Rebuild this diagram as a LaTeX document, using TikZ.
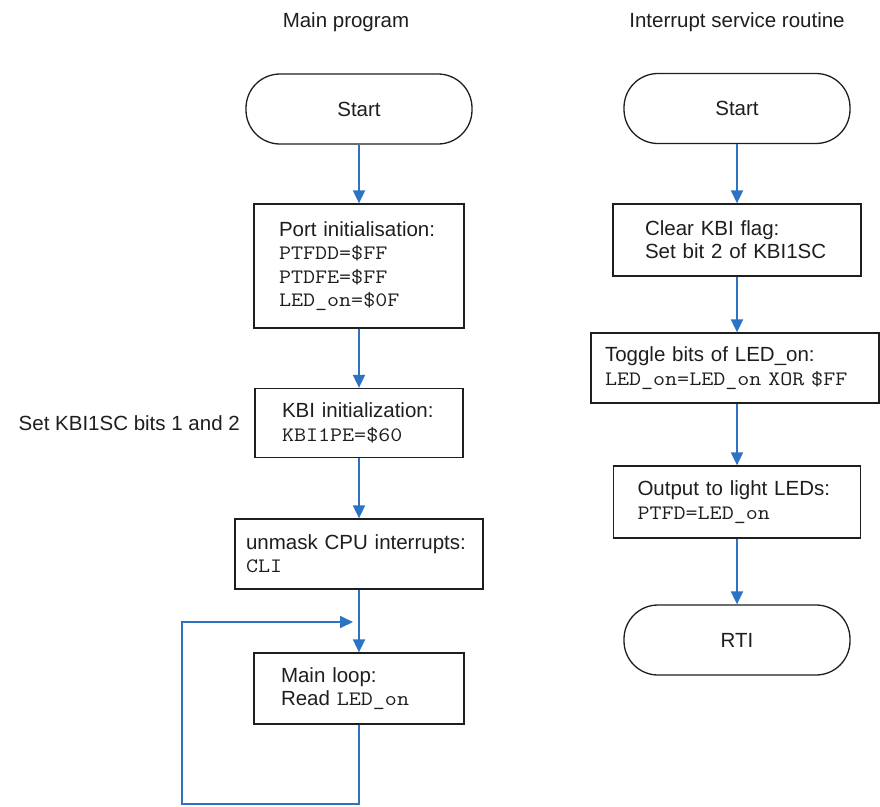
\documentclass[tikz,border=0pt]{standalone}
\usepackage{fontspec}
\setmainfont{Liberation Sans}
\setmonofont[FakeStretch=1.14]{Latin Modern Mono}
\usetikzlibrary{arrows.meta}
\definecolor{flowblue}{RGB}{45,115,195}
\definecolor{ink}{RGB}{30,30,30}
\begin{document}
\begin{tikzpicture}[x=1pt,y=-1pt,
  txt/.style={font=\fontsize{20.5}{23.3}\selectfont, text=ink, inner sep=0pt},
  term/.style={txt, draw=ink, line width=1.3pt, rounded corners=34pt,
    minimum width=#1, minimum height=70pt},
  procbox/.style={txt, draw=ink, line width=1.3pt, align=left},
  flow/.style={draw=flowblue, line width=1.8pt,
    -{Triangle[width=12pt,length=13pt]}},
]
\useasboundingbox (0,0) rectangle (880,806);

% titles
\node[txt, anchor=base] (t1) at (346,27) {Main program};
\node[txt, anchor=base] (t2) at (737,27) {Interrupt service routine};

% main program
\node[term=226pt] (startL) at (359,109) {Start};
\node[procbox, minimum width=210pt, minimum height=124pt, inner xsep=25pt, text width=160pt]
  (port) at (359,266) {Port initialisation:\\\mbox{\texttt{PTFDD=\$FF}}\\\mbox{\texttt{PTDFE=\$FF}}\\\mbox{\texttt{LED\_on=\$0F}}};
\node[procbox, minimum width=208pt, minimum height=69pt, inner xsep=27pt, text width=154pt]
  (kbi) at (359,423) {\mbox{KBI initialization:}\\\mbox{\texttt{KBI1PE=\$60}}};
\node[txt, anchor=east] (side) at (240,423) {Set KBI1SC bits 1 and 2};
\node[procbox, minimum width=248pt, minimum height=70pt, inner xsep=11pt, text width=226pt]
  (unmask) at (359,554) {\mbox{unmask CPU interrupts:}\\\mbox{\texttt{CLI}}};
\node[procbox, minimum width=210pt, minimum height=71pt, inner xsep=27pt, text width=156pt]
  (mainloop) at (359,688.5) {Main loop:\\\mbox{Read \texttt{LED\_on}}};

\coordinate (join) at (353,622);
\coordinate (corner) at (182,804);

\draw[flow] (startL) -- (port);
\draw[flow] (port) -- (kbi);
\draw[flow] (kbi) -- (unmask);
\draw[flow] (unmask) -- (mainloop);
\draw[flow] (mainloop.south) |- (corner) |- (join);

% interrupt service routine
\node[term=226pt] (startR) at (737,108.5) {Start};
\node[procbox, minimum width=248pt, minimum height=72pt, inner xsep=32pt, text width=184pt]
  (clear) at (737,240) {\mbox{Clear KBI flag:}\\\mbox{Set bit 2 of KBI1SC}};
\node[procbox, minimum width=288pt, minimum height=70pt, inner xsep=14pt, text width=260pt]
  (toggle) at (735,368) {\mbox{Toggle bits of LED\_on:}\\\mbox{\texttt{LED\_on=LED\_on XOR \$FF}}};
\node[procbox, minimum width=247pt, minimum height=72pt, inner xsep=24pt, text width=199pt]
  (output) at (737,502) {\mbox{Output to light LEDs:}\\\mbox{\texttt{PTFD=LED\_on}}};
\node[term=226pt] (rti) at (737,640) {RTI};

\draw[flow] (startR) -- (clear);
\draw[flow] (clear.south) -- (clear.south |- toggle.north);
\draw[flow] (clear.south |- toggle.south) -- (output.north);
\draw[flow] (output) -- (rti);
\end{tikzpicture}
\end{document}
